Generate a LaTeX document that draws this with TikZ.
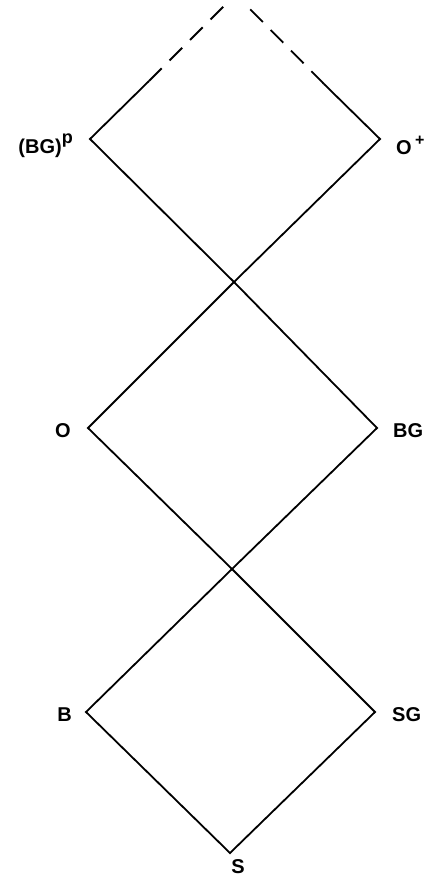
\documentclass[tikz,border=0pt]{standalone}
\usepackage{fontspec}
\setmainfont{Liberation Sans}
\begin{document}
\begin{tikzpicture}[x=1pt,y=-1pt,
  edge/.style={line width=1.8pt},
  dashedge/.style={line width=1.8pt, dash pattern=on 18pt off 11pt},
  lbl/.style={font=\bfseries\fontsize{20}{20}\selectfont, inner sep=0pt}]
\useasboundingbox (0,0) rectangle (428,880);
\coordinate (L1) at (90,139);
\coordinate (R1) at (380,139);
\coordinate (X1) at (234,282);
\coordinate (O) at (88,428);
\coordinate (BG) at (377,428);
\coordinate (X2) at (232,569);
\coordinate (B) at (86,712);
\coordinate (SG) at (375,712);
\coordinate (S) at (230,853);
\coordinate (LT) at (149,81);
\coordinate (LE) at (227,3);
\coordinate (RT) at (324,84);
\coordinate (RE) at (244,3);
% lines
\draw[edge] (LT) -- (L1) -- (X1) -- (BG) -- (X2) -- (B) -- (S) -- (SG) -- (X2) -- (O) -- (X1) -- (R1) -- (RT);
\draw[dashedge] (LT) -- (LE);
\draw[dashedge] (RT) -- (RE);
% labels
\node[lbl, anchor=east] (lBGp) at (73,146) {(BG)\raisebox{0.5em}{\fontsize{18}{18}\selectfont p}};
\node[lbl, anchor=west] (lOp) at (396,145) {O\,\raisebox{0.45em}{\fontsize{16}{16}\selectfont +}};
\node[lbl, anchor=east] (lO) at (71,431) {O};
\node[lbl, anchor=west] (lBG) at (393,431) {BG};
\node[lbl, anchor=east] (lB) at (72,715) {B};
\node[lbl, anchor=west] (lSG) at (392,715) {SG};
\node[lbl, anchor=north] (lS) at (238,859) {S};
\end{tikzpicture}
\end{document}
